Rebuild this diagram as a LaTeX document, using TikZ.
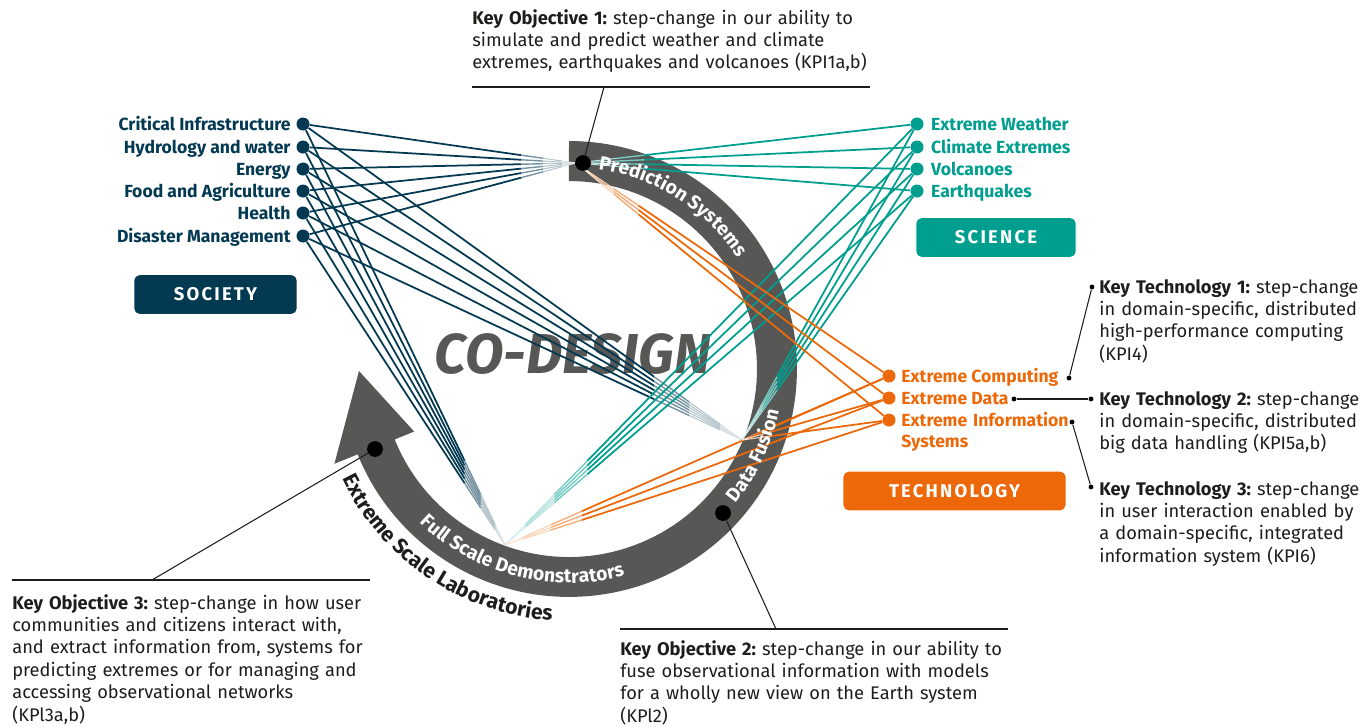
\documentclass[tikz,border=0pt]{standalone}
\usepackage{fontspec}
\setmainfont{Fira Sans}
\usetikzlibrary{positioning,calc,decorations.text}
\definecolor{socblue}{RGB}{4,57,82}
\definecolor{sciteal}{RGB}{0,158,142}
\definecolor{techorange}{RGB}{236,104,8}
\definecolor{ringgray}{RGB}{87,87,86}
\definecolor{keyblack}{RGB}{29,29,27}
\frenchspacing

% fan line that fades out towards the ring
\newcommand{\fanline}[3]{%
  \draw[#1, line width=1pt] (#2) -- ($(#2)!0.8!(#3)$);
  \draw[#1!55!white, line width=0.8pt] ($(#2)!0.8!(#3)$) -- ($(#2)!0.88!(#3)$);
  \draw[#1!30!white, line width=0.6pt] ($(#2)!0.88!(#3)$) -- ($(#2)!0.95!(#3)$);
  \draw[#1!15!white, line width=0.5pt] ($(#2)!0.95!(#3)$) -- (#3);
}

\tikzset{
  socdot/.style={circle, fill=socblue, inner sep=0pt, minimum size=7.4pt},
  scidot/.style={circle, fill=sciteal, inner sep=0pt, minimum size=7.4pt},
  techdot/.style={circle, fill=techorange, inner sep=0pt, minimum size=7.4pt},
  kodot/.style={circle, fill=black, inner sep=0pt, minimum size=9pt},
  ktdot/.style={circle, fill=black, inner sep=0pt, minimum size=2.8pt},
  grouplabel/.style={font=\bfseries, inner sep=0pt, text height=6.9pt, text depth=0pt},
  groupbox/.style={rounded corners=3pt, text=white, inner sep=0pt, minimum height=22pt,
    font=\fontsize{10.5}{12}\selectfont\bfseries\addfontfeature{LetterSpace=12}},
  keytext/.style={text=keyblack, inner sep=0pt, anchor=base west, align=left, text width=10cm,
    font=\fontsize{10.4}{12.75}\selectfont},
  keyline/.style={keyblack, line width=0.6pt},
}

\begin{document}
\begin{tikzpicture}[x=0.02cm, y=0.02cm]
\useasboundingbox (0,0) rectangle (1370,-727);

% Ring with arrow
\coordinate (C) at (569,-369);
\fill[ringgray] ($(C)+(90:228)$) arc[start angle=90, end angle=-158, radius=4.56cm]
  -- ($(C)+(-158:253)$) -- (359,-371) -- ($(C)+(-158:167)$)
  -- ($(C)+(-158:188)$) arc[start angle=-158, end angle=90, radius=3.76cm] -- cycle;
\node[font=\fontsize{32}{32}\selectfont\bfseries\itshape, text=ringgray, inner sep=0pt] (codesign) at (573,-354) {CO-DESIGN};

% Meeting points on the ring
\coordinate (P) at (576,-163);
\coordinate (D) at (742,-440);
\coordinate (F) at (505,-545);

% Society
\node[socdot] (s1) at (303,-124) {};
\node[socdot] (s2) at (303,-147) {};
\node[socdot] (s3) at (303,-169) {};
\node[socdot] (s4) at (303,-191) {};
\node[socdot] (s5) at (303,-213) {};
\node[socdot] (s6) at (303,-236) {};
\node[grouplabel, text=socblue, left=3pt of s1] {Critical Infrastructure};
\node[grouplabel, text=socblue, left=3pt of s2] {Hydrology and water};
\node[grouplabel, text=socblue, left=3pt of s3] {Energy};
\node[grouplabel, text=socblue, left=3pt of s4] {Food and Agriculture};
\node[grouplabel, text=socblue, left=3pt of s5] {Health};
\node[grouplabel, text=socblue, left=3pt of s6] {Disaster Management};

% Science
\node[scidot] (e1) at (917,-124) {};
\node[scidot] (e2) at (917,-147) {};
\node[scidot] (e3) at (917,-169) {};
\node[scidot] (e4) at (917,-191) {};
\node[grouplabel, text=sciteal, right=4pt of e1] {Extreme Weather};
\node[grouplabel, text=sciteal, right=4pt of e2] {Climate Extremes};
\node[grouplabel, text=sciteal, right=4pt of e3] {Volcanoes};
\node[grouplabel, text=sciteal, right=4pt of e4] {Earthquakes};

% Technology
\node[techdot] (t1) at (889,-376) {};
\node[techdot] (t2) at (889,-398) {};
\node[techdot] (t3) at (889,-420) {};
\node[grouplabel, text=techorange, right=3pt of t1] (t1l) {Extreme Computing};
\node[grouplabel, text=techorange, right=3pt of t2] (t2l) {Extreme Data};
\node[grouplabel, text=techorange, anchor=base west, align=left, text width=3.5cm,
  text height=, text depth=] (t3l) at ([xshift=3pt, yshift=-3.45pt]t3.east) {Extreme Information\\Systems};

% Fan lines
\foreach \i in {1,...,6} \foreach \d in {P,D,F} {\fanline{socblue}{s\i}{\d}}
\foreach \i in {1,...,4} \foreach \d in {P,D,F} {\fanline{sciteal}{e\i}{\d}}
\foreach \i in {1,...,3} \foreach \d in {P,D,F} {\fanline{techorange}{t\i}{\d}}

% Ring labels
\path[decorate, decoration={text along path, text align=center, text color=white,
  text={|\fontsize{11}{12}\selectfont\bfseries|Prediction Systems}}]
  ($(C)+(95:202)$) arc[start angle=95, end angle=20, radius=4.04cm];
\path[decorate, decoration={text along path, text align=center, text color=white,
  text={|\fontsize{11}{12}\selectfont\bfseries|Data Fusion}}]
  ($(C)+(-45:214)$) arc[start angle=-45, end angle=-5, radius=4.28cm];
\path[decorate, decoration={text along path, text align=center, text color=white,
  text={|\fontsize{11}{12}\selectfont\bfseries|Full Scale Demonstrators}}]
  ($(C)+(-145:214)$) arc[start angle=-145, end angle=-64, radius=4.28cm];
\path[decorate, decoration={text along path, text align=center, text color=keyblack,
  text={|\fontsize{12}{13}\selectfont\bfseries|Extreme Scale Laboratories}}]
  ($(C)+(-170:252)$) arc[start angle=-170, end angle=-78, radius=5.04cm];

% Key objectives
\node[kodot] (ko1) at (583,-163) {};
\node[kodot] (ko2) at (723,-513) {};
\node[kodot] (ko3) at (375,-449) {};
\coordinate (ko1j) at (604,-87);
\coordinate (ko2j) at (776,-629);
\coordinate (ko3j) at (152,-580);
\draw[keyline] (ko1) -- (ko1j);
\draw[keyline] (ko2) -- (ko2j);
\draw[keyline] (ko3) -- (ko3j);
\draw[keyline] (472,-87) -- (870,-87);
\draw[keyline] (620,-629) -- (1008,-629);
\draw[keyline] (12,-580) -- (370,-580);

\node[keytext] (ko1text) at (472,-24) {{\bfseries Key Objective 1:} step-change in our ability to\\simulate and predict weather and climate\\extremes, earthquakes and volcanoes (KPI1a,b)};
\node[keytext] (ko2text) at (620,-655) {{\bfseries Key Objective 2:} step-change in our ability to\\fuse observational information with models\\for a wholly new view on the Earth system\\(KPl2)};
\node[keytext] (ko3text) at (12,-609) {{\bfseries Key Objective 3:} step-change in how user\\communities and citizens interact with,\\and extract information from, systems for\\predicting extremes or for managing and\\accessing observational networks\\(KPl3a,b)};

% Key technologies
\node[ktdot] (kt1a) at (1069,-378) {};
\node[ktdot] (kt1b) at (1092,-287) {};
\node[ktdot] (kt2a) at (1014,-399) {};
\node[ktdot] (kt2b) at (1091,-399) {};
\node[ktdot] (kt3a) at (1072,-422) {};
\node[ktdot] (kt3b) at (1091,-487) {};
\draw[keyline] (kt1a) -- (kt1b);
\draw[keyline] (kt2a) -- (kt2b);
\draw[keyline] (kt3a) -- (kt3b);

\node[keytext] (kt1text) at (1099,-293) {{\bfseries Key Technology 1:} step-change\\in domain-specific, distributed\\high-performance computing\\(KPI4)};
\node[keytext] (kt2text) at (1099,-405) {{\bfseries Key Technology 2:} step-change\\in domain-specific, distributed\\big data handling (KPI5a,b)};
\node[keytext] (kt3text) at (1099,-495) {{\bfseries Key Technology 3:} step-change\\in user interaction enabled by\\a domain-specific, integrated\\information system (KPI6)};

% Group boxes
\node[groupbox, fill=socblue, minimum width=92.4pt] (society) at (215.5,-294.5) {SOCIETY};
\node[groupbox, fill=sciteal, minimum width=90.7pt] (science) at (996,-237.5) {SCIENCE};
\node[groupbox, fill=techorange, minimum width=126.4pt] (technology) at (954.5,-491) {TECHNOLOGY};
\end{tikzpicture}
\end{document}
